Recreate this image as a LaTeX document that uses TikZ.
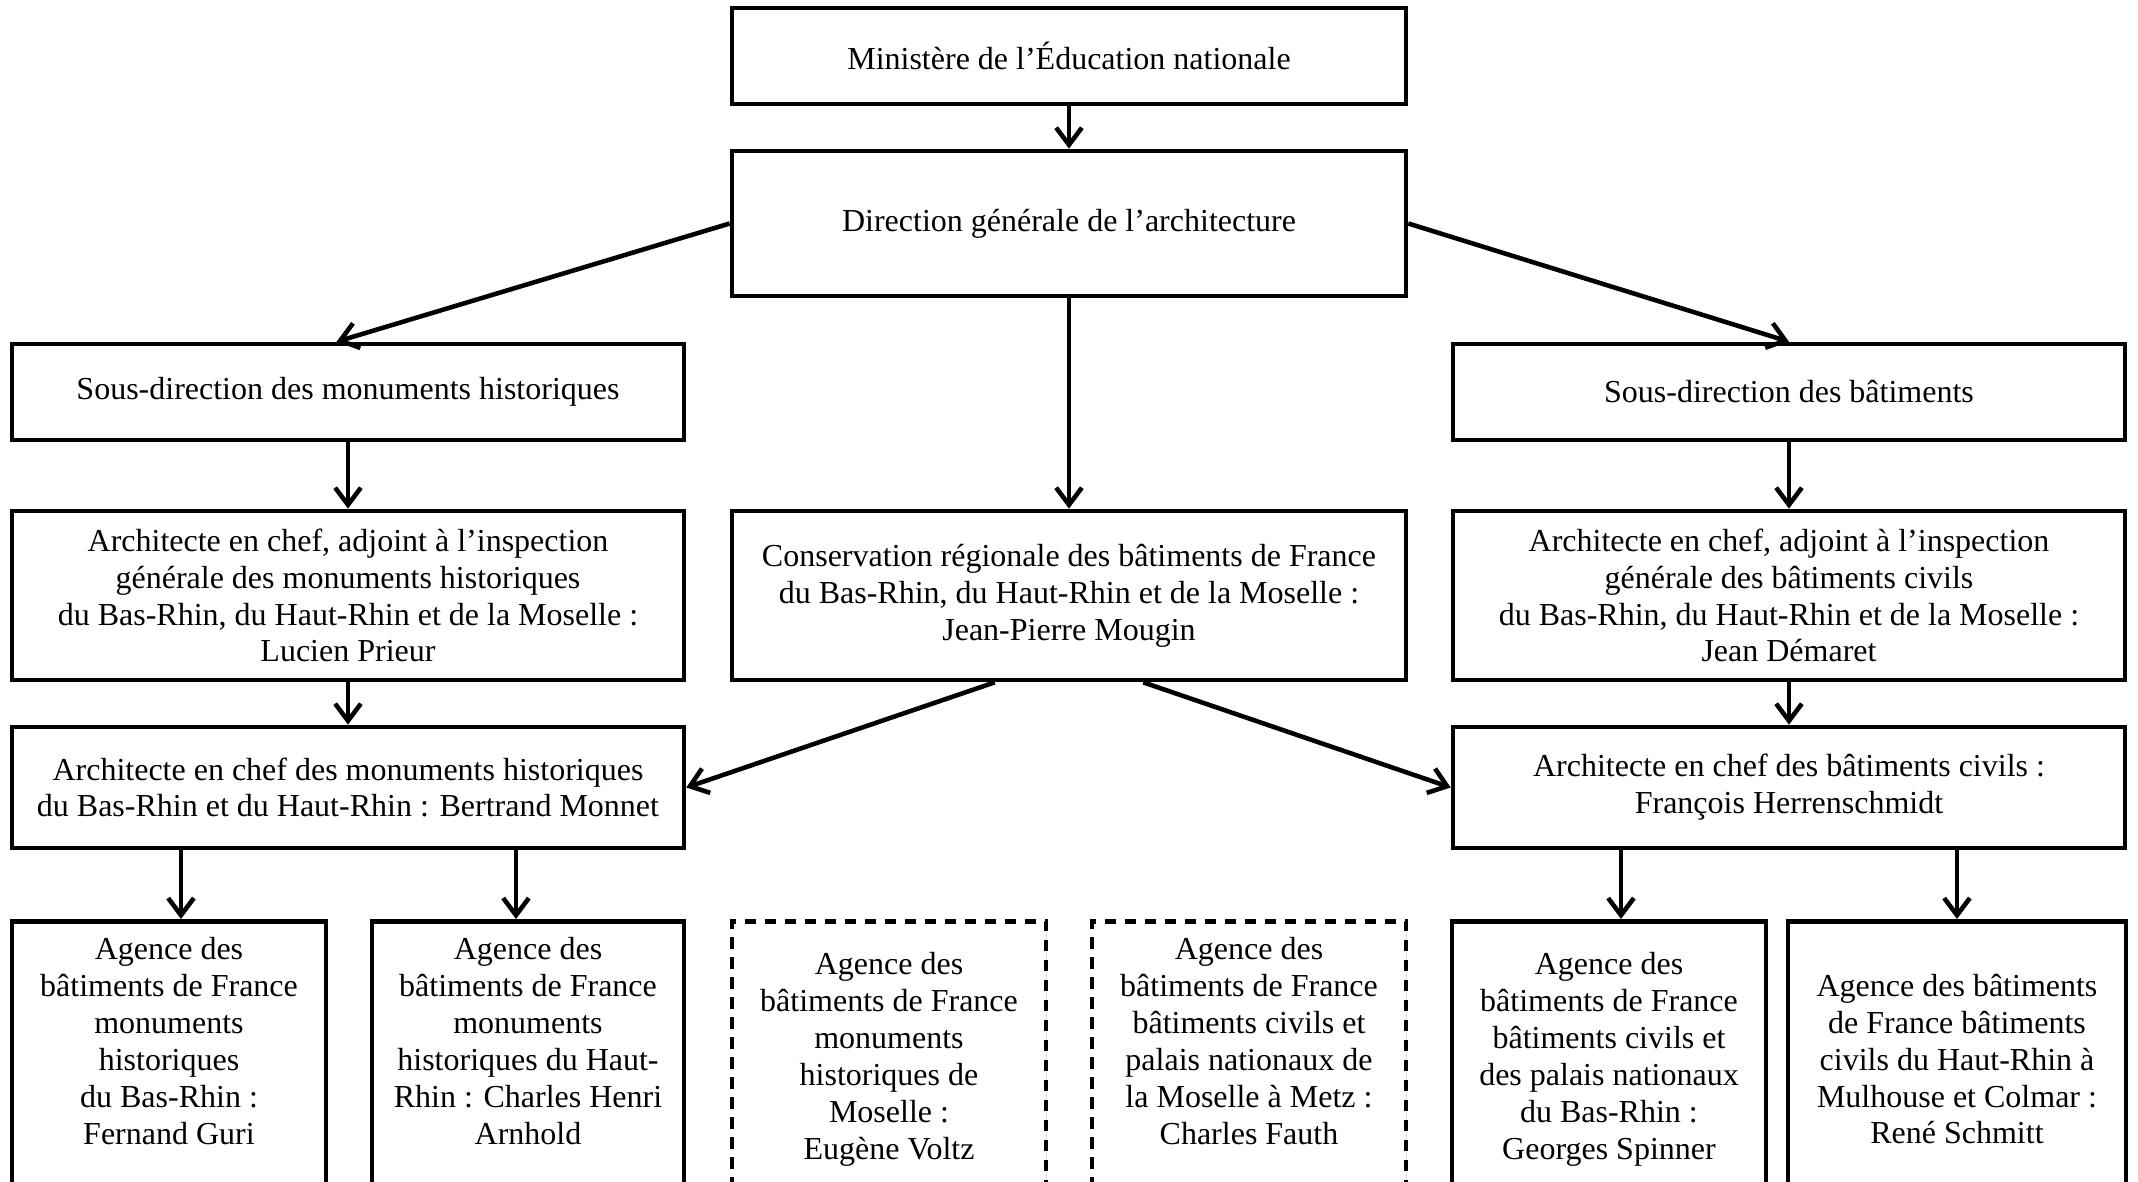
\documentclass[tikz,border=0pt]{standalone}
\usepackage{fontspec}
\setmainfont{Liberation Serif}
\usetikzlibrary{positioning, arrows.meta, shadows}

\begin{document}
\begin{tikzpicture}[
    x=0.35pt, y=-0.35pt,
    box/.style={draw, line width=1.6pt, fill=white, align=center, inner sep=2pt,
                font=\fontsize{11.2}{12.9}\selectfont, minimum width=235.2pt,
                drop shadow={shadow xshift=0.5pt, shadow yshift=-0.8pt, opacity=0.25}},
    agence/.style={box, minimum width=109.9pt, minimum height=96.6pt, anchor=north},
    pending/.style={dash pattern=on 4pt off 3pt},
    arr/.style={-{Straight Barb[length=6pt, width=9pt]}, line width=1.6pt}]

  \useasboundingbox (0,0) rectangle (2138,1182);

  % === Top: ministry and direction ===
  \node[box, minimum width=235.9pt, minimum height=33.6pt] (min) at (1069,56) {Ministère de l’Éducation nationale};
  \node[box, minimum width=235.9pt, minimum height=50.8pt] (dir) at (1069,223.5) {Direction générale de l’architecture};

  % === Sub-directions ===
  \node[box, minimum height=33.6pt] (sdmh) at (348,392) {Sous-direction des monuments historiques};
  \node[box, minimum height=33.6pt] (sdbc) at (1789,392) {Sous-direction des bâtiments};

  % === Regional level ===
  \node[box, minimum height=59.2pt] (acmh) at (348,595.5) {Architecte en chef, adjoint à l’inspection\\générale des monuments historiques\\du Bas-Rhin, du Haut-Rhin et de la Moselle :\\Lucien Prieur};
  \node[box, minimum width=235.9pt, minimum height=59.2pt] (cons) at (1069,595.5) {Conservation régionale des bâtiments de France\\du Bas-Rhin, du Haut-Rhin et de la Moselle :\\Jean-Pierre Mougin};
  \node[box, minimum height=59.2pt] (acbc) at (1789,595.5) {Architecte en chef, adjoint à l’inspection\\générale des bâtiments civils\\du Bas-Rhin, du Haut-Rhin et de la Moselle :\\Jean Démaret};

  \node[box, minimum height=42.4pt] (chmh) at (348,787.5) {Architecte en chef des monuments historiques\\du Bas-Rhin et du Haut-Rhin : Bertrand Monnet};
  \node[box, minimum height=42.4pt] (chbc) at (1789,787.5) {Architecte en chef des bâtiments civils :\\François Herrenschmidt};

  % === Agencies (bottom row, cut by the page) ===
  \node[agence] (ag1) at (169,919) {Agence des\\bâtiments de France\\monuments\\historiques\\du Bas-Rhin :\\Fernand Guri\\\mbox{}};
  \node[agence, minimum width=109.2pt] (ag2) at (528,919) {Agence des\\bâtiments de France\\monuments\\historiques du Haut-\\Rhin : Charles Henri\\Arnhold\\\mbox{}};
  \node[agence, pending] (ag3) at (889,919) {Agence des\\bâtiments de France\\monuments\\historiques de\\Moselle :\\Eugène Voltz};
  \node[agence, pending] (ag4) at (1249,919) {Agence des\\bâtiments de France\\bâtiments civils et\\palais nationaux de\\la Moselle à Metz :\\Charles Fauth\\\mbox{}};
  \node[agence] (ag5) at (1609,919) {Agence des\\bâtiments de France\\bâtiments civils et\\des palais nationaux\\du Bas-Rhin :\\Georges Spinner};
  \node[agence, minimum width=118.3pt] (ag6) at (1957,919) {Agence des bâtiments\\de France bâtiments\\civils du Haut-Rhin à\\Mulhouse et Colmar :\\René Schmitt};

  % === Arrows ===
  \draw[arr] (min) -- (dir);
  \draw[arr] (dir.west) -- ([xshift=-4pt]sdmh.north);
  \draw[arr] (dir.east) -- (sdbc.north);
  \draw[arr] (dir) -- (cons);
  \draw[arr] (sdmh) -- (acmh);
  \draw[arr] (sdbc) -- (acbc);
  \draw[arr] (acmh) -- (chmh);
  \draw[arr] (acbc) -- (chbc);
  \draw[arr] ([xshift=-26pt]cons.south) -- (chmh.east);
  \draw[arr] ([xshift=26pt]cons.south) -- (chbc.west);

  \draw[arr] ([xshift=4.2pt]ag1.north |- chmh.south) -- ([xshift=4.2pt]ag1.north);
  \draw[arr] ([xshift=-4.2pt]ag2.north |- chmh.south) -- ([xshift=-4.2pt]ag2.north);
  \draw[arr] ([xshift=4.2pt]ag5.north |- chbc.south) -- ([xshift=4.2pt]ag5.north);
  \draw[arr] (ag6.north |- chbc.south) -- (ag6.north);

\end{tikzpicture}
\end{document}
